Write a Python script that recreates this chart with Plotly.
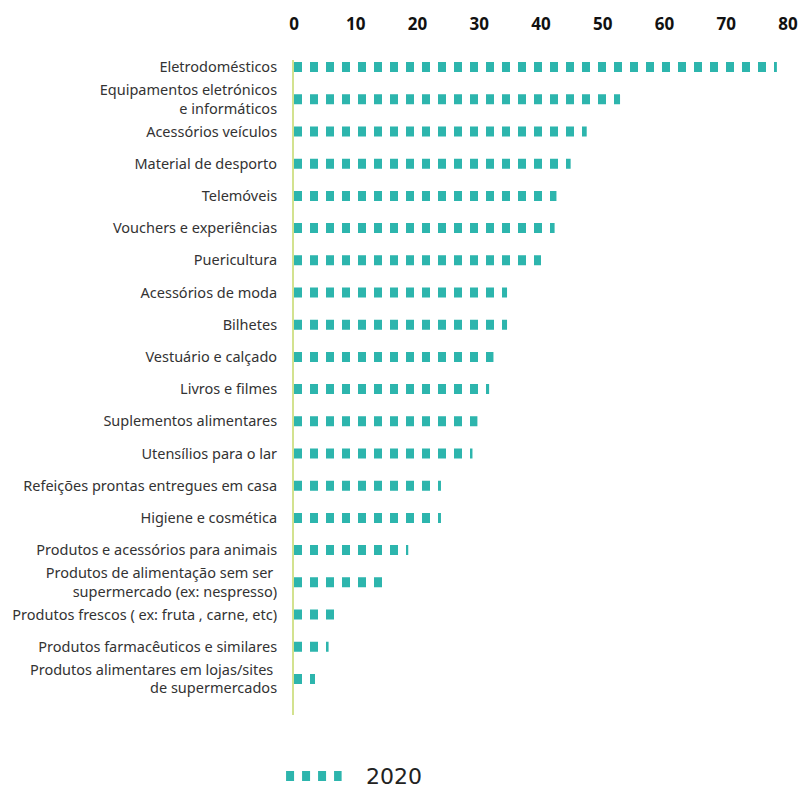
import plotly.graph_objects as go

# Product categories (top to bottom) and share of respondents (%) for 2020
categories = [
    "Eletrodomésticos",
    "Equipamentos eletrónicos<br>e informáticos",
    "Acessórios veículos",
    "Material de desporto",
    "Telemóveis",
    "Vouchers e experiências",
    "Puericultura",
    "Acessórios de moda",
    "Bilhetes",
    "Vestuário e calçado",
    "Livros e filmes",
    "Suplementos alimentares",
    "Utensílios para o lar",
    "Refeições prontas entregues em casa",
    "Higiene e cosmética",
    "Produtos e acessórios para animais",
    "Produtos de alimentação sem ser <br>supermercado (ex: nespresso)",
    "Produtos frescos ( ex: fruta , carne, etc)",
    "Produtos farmacêuticos e similares",
    "Produtos alimentares em lojas/sites <br>de supermercados",
]
values_2020 = [78.2, 52.8, 47.4, 44.8, 42.5, 42.2, 40.0, 34.5, 34.5, 32.3,
               31.6, 29.7, 28.9, 23.8, 23.8, 18.5, 14.3, 6.6, 5.6, 3.4]
x_ticks = [0, 10, 20, 30, 40, 50, 60, 70, 80]
series_name = "2020"

TEAL = "#2db5ad"
AXIS_GREEN = "#d3e28f"
DASH = "8px,8px"

fig = go.Figure()

# Each bar is a thick dashed segment running from 0 to its value
for i, (cat, val) in enumerate(zip(categories, values_2020)):
    fig.add_trace(go.Scatter(
        x=[0, val], y=[i, i],
        mode="lines",
        line=dict(color=TEAL, width=10, dash=DASH),
        name=series_name,
        showlegend=False,
        hovertemplate=f"{cat}: {val}<extra></extra>",
    ))

n = len(categories)
M_L, M_R, M_T, M_B = 294, 18, 60, 71

fig.update_layout(
    width=810,
    height=786,
    margin=dict(l=M_L, r=M_R, t=M_T, b=M_B),
    paper_bgcolor="white",
    plot_bgcolor="white",
    showlegend=False,
    xaxis=dict(
        side="top",
        range=[0, 80],
        tickvals=x_ticks,
        ticktext=[str(t) for t in x_ticks],
        showgrid=False,
        zeroline=False,
        showline=False,
        ticks="outside",
        ticklen=22,
        tickcolor="rgba(0,0,0,0)",
        tickfont=dict(family="Open Sans", size=17, color="#111111", weight="bold"),
        fixedrange=True,
    ),
    yaxis=dict(
        range=[n - 1 + 1.12, -0.22],
        tickvals=list(range(n)),
        ticktext=categories,
        showgrid=False,
        zeroline=False,
        showline=True,
        linecolor=AXIS_GREEN,
        linewidth=2,
        ticks="outside",
        ticklen=12,
        tickcolor="rgba(0,0,0,0)",
        tickfont=dict(family="Noto Sans", size=14.5, color="#333333"),
        fixedrange=True,
    ),
)

# Legend drawn below the plot: dashed sample plus series label
plot_w = 810 - M_L - M_R
plot_h = 786 - M_T - M_B
leg_y = (786 - M_B - 776) / plot_h
fig.add_shape(
    type="line", xref="paper", yref="paper",
    x0=(286 - M_L) / plot_w, x1=(342 - M_L) / plot_w,
    y0=leg_y, y1=leg_y,
    line=dict(color=TEAL, width=10, dash=DASH),
)
fig.add_annotation(
    xref="paper", yref="paper",
    x=(365 - M_L) / plot_w, y=leg_y,
    xanchor="left", yanchor="middle",
    text=series_name, showarrow=False,
    font=dict(family="DejaVu Sans", size=22, color="#222222"),
)

fig.write_html("out.html")
